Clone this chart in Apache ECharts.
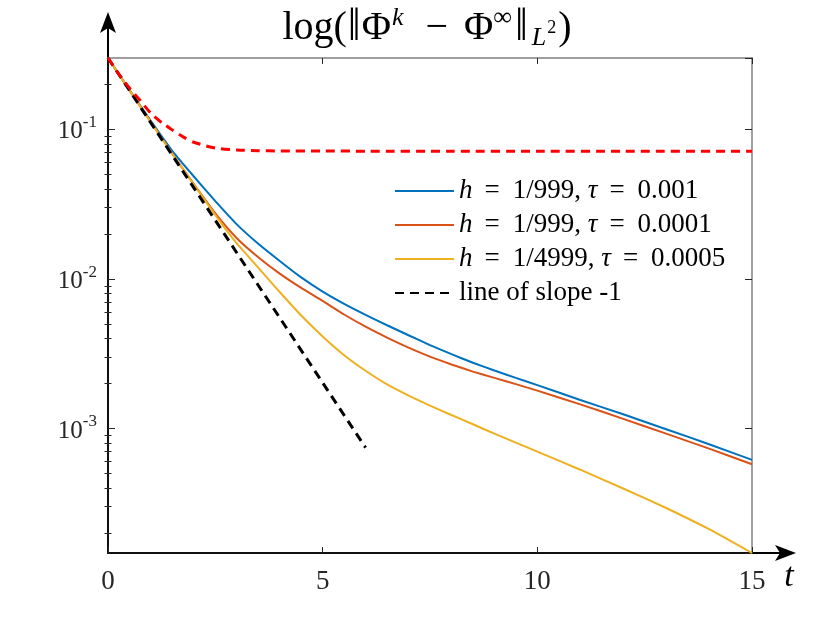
<!DOCTYPE html>
<html>
<head>
<meta charset="utf-8">
<script src="https://cdn.jsdelivr.net/npm/echarts@6/dist/echarts.min.js"></script>
<style>
  html, body { margin: 0; padding: 0; background: #fff; }
  #chartBox { width: 830px; height: 623px; }
</style>
</head>
<body>
<div id="chartBox"></div>
<script>
// values
const tPoints = [0, 0.5, 1, 1.5, 2, 2.5, 3, 3.5, 4, 4.5, 5, 5.5, 6, 6.5, 7, 7.5, 8, 8.5, 9, 9.5, 10, 11, 12, 13, 14, 15]
const blueVals = [0.3, 0.1832, 0.1135, 0.0716, 0.0484, 0.0331, 0.02317, 0.01718, 0.01318, 0.01023, 0.00822, 0.00681, 0.00575, 0.0049, 0.0042, 0.00361, 0.00314, 0.00275, 0.00244, 0.00218, 0.00195, 0.00155, 0.001245, 0.000989, 0.000785, 0.000617]
const orangeVals = [0.3, 0.1828, 0.1117, 0.0687, 0.043, 0.0274, 0.0187, 0.01396, 0.01084, 0.0087, 0.00712, 0.00578, 0.00479, 0.00405, 0.00347, 0.00302, 0.00268, 0.0024, 0.00218, 0.00198, 0.00179, 0.00145, 0.00116, 0.000923, 0.000733, 0.000577]
const yellowVals = [0.3, 0.1828, 0.1114, 0.0684, 0.0427, 0.0267, 0.01726, 0.01189, 0.00817, 0.00569, 0.00412, 0.00309, 0.00243, 0.00197, 0.00166, 0.00142, 0.00123, 0.001067, 0.000923, 0.000804, 0.0007, 0.00053, 0.000397, 0.000294, 0.000212, 0.000147]
const redT = [0, 0.25, 0.5, 0.75, 1, 1.25, 1.5, 1.75, 2, 2.5, 3, 3.5, 4, 5, 6, 8, 10, 12, 15]
const redVals = [0.3, 0.235, 0.189, 0.156, 0.128, 0.111, 0.099, 0.089, 0.082, 0.075, 0.0728, 0.072, 0.0717, 0.0716, 0.0715, 0.0715, 0.0715, 0.0715, 0.0715]
const slopeT = [0, 6]
const slopeVals = [0.3, 0.000744]
const seriesNames = ['h = 1/999, τ = 0.001', 'h = 1/999, τ = 0.0001', 'h = 1/4999, τ = 0.0005', 'line of slope -1']
const xTicks = [0, 5, 10, 15]
const yMin = 0.000147
const yMax = 0.3

const FONT = 'Liberation Serif'
const gridL = 108, gridT = 58, gridR = 78, gridB = 70
const W = 830, H = 623
const xEnd = W - gridR
const yEnd = H - gridB

const zip = (xs, ys) => xs.map((x, i) => [x, ys[i]])

// minor tick positions (2..9 per decade), in log10 space
const minorLog = []
for (let k = -4; k <= -1; k++) {
  for (let m = 2; m <= 9; m++) {
    const v = m * Math.pow(10, k)
    if (v > yMin && v < yMax) minorLog.push(Math.log10(v))
  }
}

const legendRich = {
  i: { fontFamily: FONT, fontStyle: 'italic', fontSize: 27, lineHeight: 28, color: '#000' },
  n: { fontFamily: FONT, fontSize: 27, lineHeight: 28, color: '#000' },
  e: { fontFamily: FONT, fontSize: 27, lineHeight: 28, color: '#000', padding: [0, 13, 0, 12] }
}
// "h = 1/999, τ = 0.001" -> italic h and τ, wider space round "="
const legendFormat = name => {
  if (name.indexOf('h = ') !== 0) return '{n|' + name + '}'
  const parts = name.split(', ')
  const left = parts[0].split(' = ')
  const right = parts[1].split(' = ')
  return '{i|' + left[0] + '}{e|=}{n|' + left[1] + ', }{i|' + right[0] + '}{e|=}{n|' + right[1] + '}'
}

const myChart = echarts.init(document.getElementById('chartBox'))

const gray = { show: true, onZero: false, lineStyle: { color: '#808080', width: 1.5 } }
const dark = { show: true, onZero: false, lineStyle: { color: '#111', width: 2 } }
const tick = len => ({ show: true, inside: true, length: len, lineStyle: { color: '#262626', width: 1 } })

const logAxis = {
  type: 'log', logBase: 10, min: yMin, max: yMax, splitLine: { show: false }
}
const minorAxis = {
  type: 'value', min: Math.log10(yMin), max: Math.log10(yMax),
  axisLine: { show: false }, axisLabel: { show: false }, splitLine: { show: false },
  axisTick: { show: true, inside: true, length: 3.5, customValues: minorLog, lineStyle: { color: '#262626', width: 1 } }
}

const chartOptions = {
  animation: false,
  backgroundColor: '#fff',
  grid: { left: gridL, top: gridT, right: gridR, bottom: gridB, containLabel: false },
  legend: {
    data: seriesNames,
    orient: 'vertical',
    left: 389,
    top: 172,
    itemWidth: 59,
    itemHeight: 14,
    itemGap: 6,
    itemStyle: { opacity: 0 },
    formatter: legendFormat,
    textStyle: { fontFamily: FONT, fontSize: 27, lineHeight: 28, color: '#000', rich: legendRich }
  },
  xAxis: [
    {
      type: 'value', min: 0, max: 15, interval: 5, position: 'bottom',
      axisLine: dark, axisTick: tick(6), splitLine: { show: false },
      axisLabel: { fontFamily: FONT, fontSize: 27, color: '#262626', margin: 15, customValues: xTicks }
    },
    {
      type: 'value', min: 0, max: 15, interval: 5, position: 'top',
      axisLine: gray, axisTick: tick(6), axisLabel: { show: false }, splitLine: { show: false }
    }
  ],
  yAxis: [
    {
      ...logAxis, position: 'left',
      axisLine: dark, axisTick: tick(7),
      axisLabel: {
        margin: 11,
        showMinLabel: false,
        showMaxLabel: false,
        formatter: v => '{b|10}{s|' + Math.round(Math.log10(v)) + '}',
        rich: {
          b: { fontFamily: FONT, fontSize: 25, color: '#262626', lineHeight: 30, verticalAlign: 'bottom' },
          s: { fontFamily: FONT, fontSize: 17, color: '#262626', lineHeight: 18, verticalAlign: 'top' }
        }
      }
    },
    { ...minorAxis, position: 'left' },
    {
      ...logAxis, position: 'right',
      axisLine: gray, axisTick: tick(7), axisLabel: { show: false }
    },
    { ...minorAxis, position: 'right' }
  ],
  graphic: [
    { type: 'line', shape: { x1: gridL, y1: gridT, x2: gridL, y2: 24 }, style: { stroke: '#000', lineWidth: 2 } },
    { type: 'polygon', shape: { points: [[gridL, 12], [gridL - 8, 33], [gridL, 28], [gridL + 8, 33]] }, style: { fill: '#000' } },
    { type: 'line', shape: { x1: xEnd, y1: yEnd, x2: 784, y2: yEnd }, style: { stroke: '#000', lineWidth: 2 } },
    { type: 'polygon', shape: { points: [[796, yEnd], [775, yEnd - 8], [780, yEnd], [775, yEnd + 8]] }, style: { fill: '#000' } },
    {
      type: 'text', x: 789, y: 577,
      style: { text: 't', font: 'italic 34px "Liberation Serif"', fill: '#000', align: 'center', verticalAlign: 'middle' }
    },
    {
      type: 'text', x: 427, y: 28,
      style: {
        text: '{a|log(}{p|‖}{a|Φ}{k|k}{m|−}{a|Φ}{u|∞}{p|‖}{l|L}{d|2}{a|)}',
        align: 'center', verticalAlign: 'middle', fill: '#000',
        rich: {
          a: { fontFamily: FONT, fontSize: 40, lineHeight: 46, fill: '#000', verticalAlign: 'middle' },
          p: { fontFamily: FONT, fontSize: 46, lineHeight: 46, fill: '#000', verticalAlign: 'middle', padding: [0, 1, 0, 1] },
          m: { fontFamily: FONT, fontSize: 40, lineHeight: 46, fill: '#000', verticalAlign: 'middle', padding: [0, 16, 0, 16] },
          k: { fontFamily: FONT, fontSize: 26, fontStyle: 'italic', lineHeight: 18, fill: '#000', verticalAlign: 'top', padding: [0, 6, 0, 1] },
          u: { fontFamily: FONT, fontSize: 26, lineHeight: 18, fill: '#000', verticalAlign: 'top', padding: [0, 2, 0, 0] },
          l: { fontFamily: FONT, fontSize: 26, fontStyle: 'italic', lineHeight: 34, fill: '#000', verticalAlign: 'bottom', padding: [0, 0, 0, 3] },
          d: { fontFamily: FONT, fontSize: 18, lineHeight: 46, fill: '#000', verticalAlign: 'middle', padding: [0, 2, 0, 1] }
        }
      }
    }
  ],
  series: [
    {
      name: seriesNames[0], type: 'line', data: zip(tPoints, blueVals), showSymbol: false, symbol: 'none',
      smooth: 0.15, color: '#0072BD', lineStyle: { color: '#0072BD', width: 2 }
    },
    {
      name: seriesNames[1], type: 'line', data: zip(tPoints, orangeVals), showSymbol: false, symbol: 'none',
      smooth: 0.15, color: '#D95319', lineStyle: { color: '#D95319', width: 2 }
    },
    {
      name: seriesNames[2], type: 'line', data: zip(tPoints, yellowVals), showSymbol: false, symbol: 'none',
      smooth: 0.15, color: '#EDB120', lineStyle: { color: '#EDB120', width: 2 }
    },
    {
      name: seriesNames[3], type: 'line', data: zip(slopeT, slopeVals), showSymbol: false, symbol: 'none',
      color: '#000', lineStyle: { color: '#000', width: 3, type: [9, 6] }
    },
    {
      name: 'limit', type: 'line', data: zip(redT, redVals), showSymbol: false, symbol: 'none',
      smooth: 0.25, color: '#ff0000', lineStyle: { color: '#ff0000', width: 3, type: [9, 6] }
    }
  ]
}

if (myChart) {
  myChart.setOption(chartOptions)
}
</script>
</body>
</html>
